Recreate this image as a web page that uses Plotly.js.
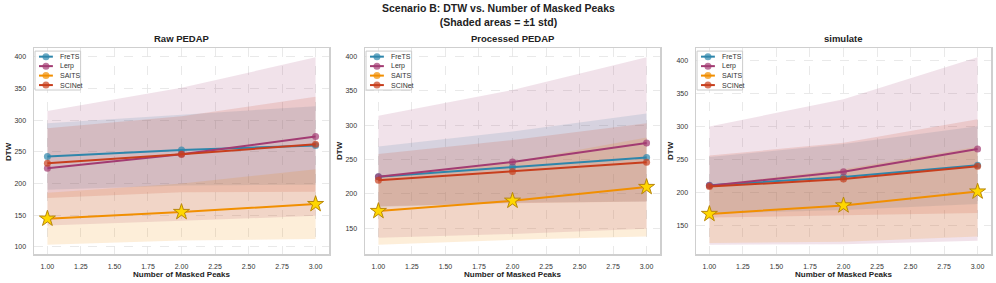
<!DOCTYPE html>
<html>
<head>
<meta charset="utf-8">
<script src="https://cdn.plot.ly/plotly-3.0.1.min.js"></script>
<style>html,body{margin:0;padding:0;background:#fff}#chart{width:996px;height:283px}</style>
</head>
<body>
<div id="chart"></div>
<script>
// ---- data ----
const xPeaks = [1, 2, 3];
const methods = ['FreTS', 'Lerp', 'SAITS', 'SCINet'];
const panelTitles = ['Raw PEDAP', 'Processed PEDAP', 'simulate'];
const xTickVals = [1.00, 1.25, 1.50, 1.75, 2.00, 2.25, 2.50, 2.75, 3.00];

const raw_FreTS_mean = [242.5, 253, 260];
const raw_FreTS_std = [52.5, 56, 62];
const raw_Lerp_mean = [224, 246, 274];
const raw_Lerp_std = [90.5, 105, 125];
const raw_SAITS_mean = [144.5, 155, 167.5];
const raw_SAITS_std = [41, 45, 55];
const raw_SCINet_mean = [232, 246, 262];
const raw_SCINet_std = [55, 60, 75];

const proc_FreTS_mean = [225, 239, 253];
const proc_FreTS_std = [44, 52, 64];
const proc_Lerp_mean = [225, 246.5, 274];
const proc_Lerp_std = [89, 105, 125];
const proc_SAITS_mean = [175, 190, 210];
const proc_SAITS_std = [49, 57, 72];
const proc_SCINet_mean = [220, 232.5, 246];
const proc_SCINet_std = [38, 46, 57];

const sim_FreTS_mean = [211.5, 224, 242];
const sim_FreTS_std = [43, 50, 59];
const sim_Lerp_mean = [211, 232, 266.5];
const sim_Lerp_std = [89.5, 110, 139];
const sim_SAITS_mean = [168, 181, 202];
const sim_SAITS_std = [44, 55, 68];
const sim_SCINet_mean = [209.5, 221, 240.5];
const sim_SCINet_std = [47, 55, 71];

const bestMethod = 'SAITS';

// ---- styling ----
const colors = {FreTS: '#2E86AB', Lerp: '#A23B72', SAITS: '#F18F01', SCINet: '#C73E1D'};
const rgba = (hex, a) => {
  const n = parseInt(hex.slice(1), 16);
  return `rgba(${(n >> 16) & 255},${(n >> 8) & 255},${n & 255},${a})`;
};
const FONT = 'Liberation Sans, Arial, Helvetica, sans-serif';

const panels = [
  {mean: {FreTS: raw_FreTS_mean, Lerp: raw_Lerp_mean, SAITS: raw_SAITS_mean, SCINet: raw_SCINet_mean},
   std: {FreTS: raw_FreTS_std, Lerp: raw_Lerp_std, SAITS: raw_SAITS_std, SCINet: raw_SCINet_std}},
  {mean: {FreTS: proc_FreTS_mean, Lerp: proc_Lerp_mean, SAITS: proc_SAITS_mean, SCINet: proc_SCINet_mean},
   std: {FreTS: proc_FreTS_std, Lerp: proc_Lerp_std, SAITS: proc_SAITS_std, SCINet: proc_SCINet_std}},
  {mean: {FreTS: sim_FreTS_mean, Lerp: sim_Lerp_mean, SAITS: sim_SAITS_mean, SCINet: sim_SCINet_mean},
   std: {FreTS: sim_FreTS_std, Lerp: sim_Lerp_std, SAITS: sim_SAITS_std, SCINet: sim_SCINet_std}}
];

const W = 996, H = 283;
const xDomainsPx = [[34, 329], [365, 660], [696, 991]];
const yTopPx = 48, yBotPx = 254;
const yDomain = [1 - yBotPx / H, 1 - yTopPx / H];

const traces = [];
const layout = {
  width: W, height: H,
  margin: {l: 0, r: 0, t: 0, b: 0},
  paper_bgcolor: '#ffffff',
  plot_bgcolor: '#ffffff',
  showlegend: false,
  font: {family: FONT, size: 7, color: '#333'},
  annotations: [],
  shapes: []
};

layout.annotations.push({
  text: '<b>Scenario B: DTW vs. Number of Masked Peaks</b><br><b>(Shaded areas = ±1 std)</b>',
  xref: 'paper', yref: 'paper', x: 0.5, y: 1 - 14.5 / H, xanchor: 'center', yanchor: 'middle',
  showarrow: false, font: {family: FONT, size: 10.5, color: '#222'}
});

panels.forEach((p, i) => {
  const ax = i === 0 ? '' : String(i + 1);
  const xa = 'x' + ax, ya = 'y' + ax;
  // bands
  methods.forEach(m => {
    const up = p.mean[m].map((v, k) => v + p.std[m][k]);
    const lo = p.mean[m].map((v, k) => v - p.std[m][k]);
    traces.push({
      x: xPeaks.concat(xPeaks.slice().reverse()),
      y: up.concat(lo.slice().reverse()),
      xaxis: xa, yaxis: ya, type: 'scatter', mode: 'lines',
      fill: 'toself', fillcolor: rgba(colors[m], 0.15),
      line: {width: 0, color: 'rgba(0,0,0,0)'}, hoverinfo: 'skip'
    });
  });
  // lines
  methods.forEach(m => {
    traces.push({
      x: xPeaks, y: p.mean[m], xaxis: xa, yaxis: ya, type: 'scatter', mode: 'lines+markers',
      name: m,
      line: {color: colors[m], width: 2},
      marker: {color: rgba(colors[m], 0.7), size: 7, symbol: 'circle', line: {width: 0}}
    });
  });
  // best method stars
  traces.push({
    x: xPeaks, y: p.mean[bestMethod], xaxis: xa, yaxis: ya, type: 'scatter', mode: 'markers',
    marker: {symbol: 'star', size: 12, color: '#FFD700', line: {color: '#B8860B', width: 1}}
  });

  const allLo = [], allUp = [];
  methods.forEach(m => p.mean[m].forEach((v, k) => { allLo.push(v - p.std[m][k]); allUp.push(v + p.std[m][k]); }));
  const mn = Math.min(...allLo), mx = Math.max(...allUp), pad = (mx - mn) * 0.05;

  const dom = [xDomainsPx[i][0] / W, xDomainsPx[i][1] / W];
  const common = {
    showline: true, mirror: true, linecolor: '#cfcfcf', linewidth: 1.5,
    showgrid: true, gridcolor: '#e3e3e3', griddash: 'dash', gridwidth: 0.8,
    zeroline: false, ticks: 'outside', ticklen: 5, tickcolor: 'rgba(0,0,0,0)',
    tickfont: {family: FONT, size: 7, color: '#333'}
  };
  layout['xaxis' + ax] = Object.assign({}, common, {
    domain: dom, anchor: ya, range: [0.9, 3.1], tickvals: xTickVals, tickformat: '.2f'
  });
  layout['yaxis' + ax] = Object.assign({}, common, {
    domain: yDomain, anchor: xa, range: [mn - pad, mx + pad], dtick: 50, tick0: 0
  });

  const cx = (dom[0] + dom[1]) / 2;
  layout.annotations.push({
    text: '<b>' + panelTitles[i] + '</b>', xref: 'paper', yref: 'paper', x: cx, y: 1 - 39 / H,
    xanchor: 'center', yanchor: 'middle', showarrow: false, font: {family: FONT, size: 9.5, color: '#222'}
  });
  layout.annotations.push({
    text: '<b>Number of Masked Peaks</b>', xref: 'paper', yref: 'paper', x: cx, y: 1 - 274.5 / H,
    xanchor: 'center', yanchor: 'middle', showarrow: false, font: {family: FONT, size: 8, color: '#222'}
  });
  layout.annotations.push({
    text: '<b>DTW</b>', xref: 'paper', yref: 'paper', x: (xDomainsPx[i][0] - 26) / W, y: (yDomain[0] + yDomain[1]) / 2,
    xanchor: 'center', yanchor: 'middle', textangle: -90, showarrow: false, font: {family: FONT, size: 8, color: '#222'}
  });

  // legend box (custom, compact)
  const xd = xa + ' domain', yd = ya + ' domain';
  layout.shapes.push({type: 'rect', xref: xd, yref: yd, x0: 0.0035, x1: 0.158, y0: 0.796, y1: 0.985,
    fillcolor: 'rgba(255,255,255,0.85)', line: {color: '#cccccc', width: 1}, layer: 'above'});
  const rows = [0.958, 0.912, 0.866, 0.820];
  methods.forEach((m, k) => {
    layout.shapes.push({type: 'line', xref: xd, yref: yd, x0: 0.017, x1: 0.064, y0: rows[k], y1: rows[k],
      line: {color: colors[m], width: 2}, layer: 'above'});
    layout.shapes.push({type: 'circle', xref: xd, yref: yd, xsizemode: 'pixel', ysizemode: 'pixel',
      xanchor: 0.0405, yanchor: rows[k], x0: -3.5, x1: 3.5, y0: -3.5, y1: 3.5,
      fillcolor: rgba(colors[m], 0.7), line: {width: 0}, layer: 'above'});
    layout.annotations.push({text: m, xref: xd, yref: yd, x: 0.08, y: rows[k], xanchor: 'left', yanchor: 'middle',
      showarrow: false, font: {family: FONT, size: 7, color: '#333'}});
  });
});

Plotly.newPlot('chart', traces, layout, {staticPlot: true, displayModeBar: false});
</script>
</body>
</html>
